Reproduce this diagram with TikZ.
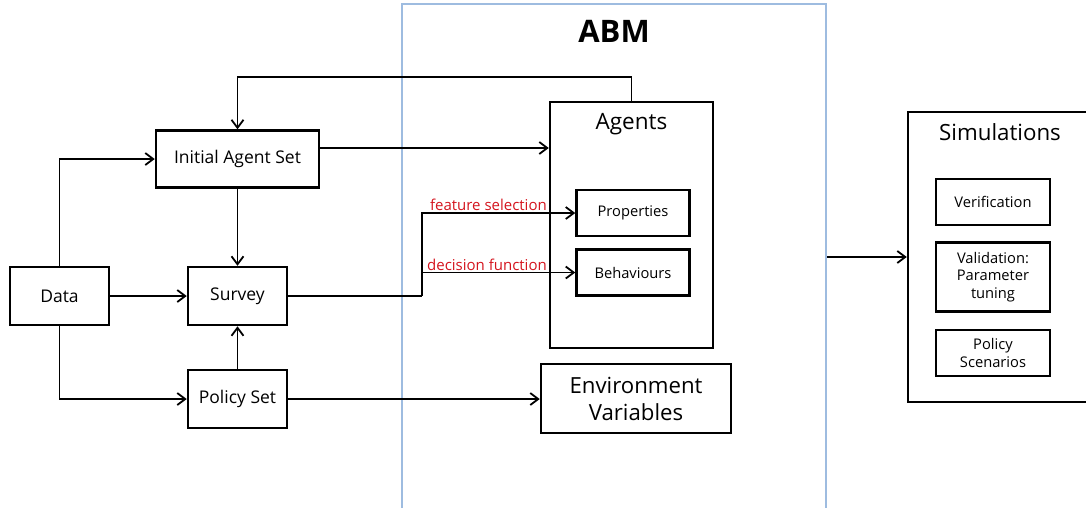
\documentclass[tikz,border=0pt]{standalone}
\usepackage{fontspec}
\setmainfont{Open Sans}
\usetikzlibrary{arrows.meta}
\definecolor{abmblue}{RGB}{158,188,224}
\definecolor{lblred}{RGB}{212,20,30}
\tikzset{
  box/.style={draw, line width=2.5pt, inner sep=0pt, align=center, font=\fontsize{17.5}{20}\selectfont},
  small/.style={box, font=\fontsize{14.7}{17.5}\selectfont},
  big/.style={box, font=\fontsize{22.2}{27}\selectfont},
  arr/.style={line width=1.8pt, -{Straight Barb[length=8pt,width=12pt,line width=1.8pt]}},
  plain/.style={line width=1.8pt},
  lbl/.style={text=lblred, font=\fontsize{15}{18}\selectfont, inner sep=1pt},
}
\begin{document}
\begin{tikzpicture}[x=1pt,y=-1pt]
\useasboundingbox (0,0) rectangle (1086,507);
\clip (0,0) rectangle (1086,507);
% ABM frame
\node[draw=abmblue, line width=2.6pt, minimum width=424pt, minimum height=506pt, inner sep=0pt] (abm) at (614,257) {};
\node[font=\fontsize{31}{36}\selectfont\bfseries] (abmt) at (614,31) {ABM};
% left nodes
\node[box, minimum width=163pt, minimum height=57pt] (ias) at (237.5,159) {Initial Agent Set};
\node[box, minimum width=99pt, minimum height=58pt] (data) at (59.5,296) {Data};
\node[box, minimum width=99pt, minimum height=58pt] (survey) at (237.5,296) {Survey};
\node[box, minimum width=99pt, minimum height=58pt] (policy) at (237.5,399) {Policy Set};
% agents
\node[box, minimum width=163pt, minimum height=246pt] (agents) at (631.5,225) {};
\node[font=\fontsize{22.5}{27}\selectfont] (agt) at (631.5,124) {Agents};
\node[small, minimum width=113pt, minimum height=46pt] (props) at (633,213) {Properties};
\node[small, minimum width=113pt, minimum height=46pt] (beh) at (633,272.5) {Behaviours};
\node[big, minimum width=190pt, minimum height=69pt] (env) at (636,398.5) {Environment\\Variables};
% simulations
\node[box, minimum width=184pt, minimum height=290pt] (sim) at (1000,257) {};
\node[font=\fontsize{22.3}{27}\selectfont] (simt) at (1000,132) {Simulations};
\node[small, minimum width=114pt, minimum height=46pt] (ver) at (993,202) {Verification};
\node[small, minimum width=114pt, minimum height=69pt] (val) at (993,277) {Validation:\\Parameter\\tuning};
\node[small, minimum width=114pt, minimum height=46pt] (pol) at (993,353) {Policy\\Scenarios};
% connectors
\draw[arr] (agents.north) -- ++(0,-24) -| (ias.north);
\draw[arr] ([yshift=11pt]ias.east) coordinate (a1) -- (a1 -| agents.west);
\draw[arr] (data.north) |- (ias.west);
\draw[arr] (data.east) -- (survey.west);
\draw[arr] (data.south) |- (policy.west);
\draw[arr] (ias.south) -- (survey.north);
\draw[arr] (policy.north) -- (survey.south);
\coordinate (j) at (422,296);
\draw[plain] (survey.east) -- (j);
\draw[arr] (j) |- (props.west);
\draw[arr] (j) |- (beh.west);
\node[lbl, anchor=south east] (fs) at (548,212) {feature selection};
\node[lbl, anchor=south east] (df) at (548,271.5) {decision function};
\draw[arr] (policy.east) -- (policy.east -| env.west);
\draw[arr] (abm.east |- sim.west) -- (sim.west);
\end{tikzpicture}
\end{document}
